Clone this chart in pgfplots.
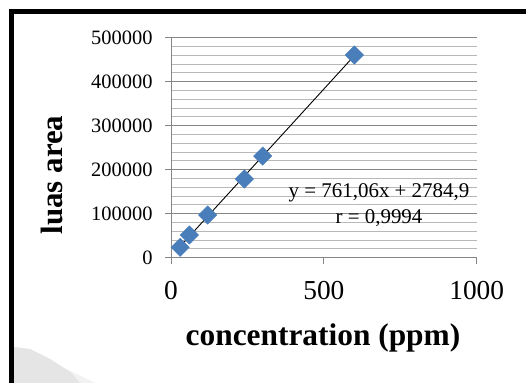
\documentclass[border=0pt]{standalone}
\usepackage{fontspec}
\setmainfont{Liberation Serif}
\usepackage{pgfplots}
\pgfplotsset{compat=1.18}
\definecolor{mblue}{HTML}{4A7EBB}
\definecolor{majg}{HTML}{868686}
\definecolor{ming}{HTML}{B8B8B8}
\begin{document}
\begin{tikzpicture}
\path[use as bounding box] (0bp,0bp) rectangle (526bp,383bp);
\fill[white] (0bp,0bp) rectangle (526bp,383bp);
\fill[black!10] (14bp,0bp) -- (14bp,36bp) -- (30bp,34bp) -- (50bp,24bp) -- (72bp,10bp) -- (80bp,0bp) -- cycle;
\fill[black!5] (80bp,0bp) -- (72bp,10bp) -- (50bp,24bp) -- (62bp,16bp) -- (95bp,0bp) -- cycle;
\draw[line width=5bp] (11.5bp,0bp) -- (11.5bp,371.5bp) -- (526bp,371.5bp);
\begin{axis}[
  at={(171bp,125.3bp)}, anchor=south west,
  scale only axis, width=305.7bp, height=220bp,
  xmin=0, xmax=1000, ymin=0, ymax=500000,
  axis x line*=bottom, axis y line*=left,
  axis line style={-, majg, line width=0.9bp},
  xtick={0,500,1000}, xticklabels={0,500,1000},
  ytick={0,100000,200000,300000,400000,500000},
  yticklabels={0,100000,200000,300000,400000,500000},
  minor y tick num=4,
  ymajorgrids, yminorgrids,
  major grid style={majg, line width=0.9bp},
  minor grid style={ming, line width=0.9bp},
  tick align=outside, major tick length=6bp, minor tick length=0pt,
  tick style={majg, line width=0.9bp},
  scaled y ticks=false, scaled x ticks=false,
  x tick label style={font=\fontsize{27.5}{28}\selectfont, yshift=-14bp},
  y tick label style={font=\fontsize{20.5}{21}\selectfont, xshift=-9bp},
  clip=false,
]
\addplot[only marks, mark=square*, mark size=6.5bp, mark options={rotate=45, fill=mblue, draw=mblue}]
  coordinates {(30,23600) (60,51600) (120,97000) (240,179000) (300,231000) (600,460700)};
\addplot[black, line width=0.9bp] coordinates {(30,25616.7) (600,459420.9)};
\end{axis}
\node[font=\fontsize{21}{26}\selectfont, align=center] at (379bp,178bp) {y = 761,06x + 2784,9\\r = 0,9994};
\node[font=\fontsize{31.5}{32}\selectfont\bfseries, anchor=base] at (323bp,38bp) {concentration (ppm)};
\node[font=\fontsize{31}{32}\selectfont\bfseries, rotate=90] at (52bp,208bp) {luas area};
\end{tikzpicture}
\end{document}
